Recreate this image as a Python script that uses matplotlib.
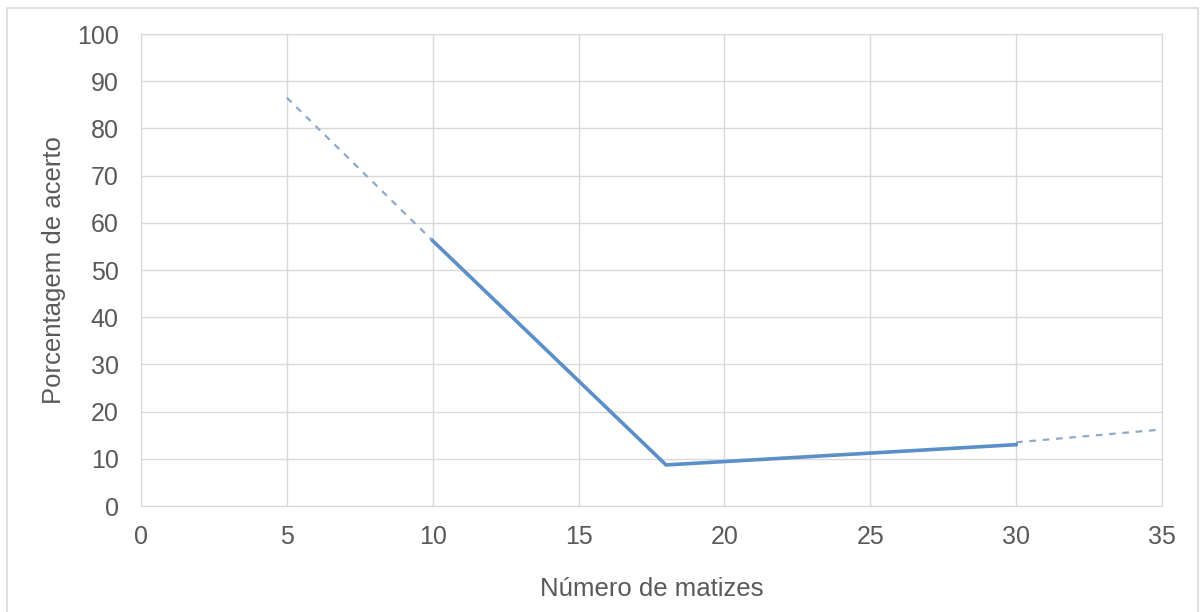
import matplotlib.pyplot as plt
from matplotlib.patches import Rectangle

plt.rcParams['font.family'] = ['Liberation Sans', 'DejaVu Sans']

# solid measured part
x_solid = [10, 18, 30]
y_solid = [56.2, 8.7, 13.0]
# dashed trend extensions
x_dash_left = [5, 10]
y_dash_left = [86.5, 56.2]
x_dash_right = [30, 34.8]
y_dash_right = [13.5, 16.1]

x_ticks = [0, 5, 10, 15, 20, 25, 30, 35]
y_ticks = [0, 10, 20, 30, 40, 50, 60, 70, 80, 90, 100]

fig = plt.figure(figsize=(12.01, 6.12), dpi=100)
fig.patches.append(Rectangle((7 / 1201, -0.01), 1191 / 1201, 0.997, transform=fig.transFigure,
                             fill=False, edgecolor='#d9d9d9', linewidth=1.2))
ax = fig.add_axes([0.1174, 0.1732, 0.8501, 0.7712])

ax.plot(x_dash_left, y_dash_left, color='#8eaacb', linestyle=(0, (3, 3)), linewidth=1.6)
ax.plot(x_dash_right, y_dash_right, color='#8eaacb', linestyle=(0, (3, 3)), linewidth=1.6)
ax.plot(x_solid, y_solid, color='#5b8fc7', linewidth=2.6, solid_joinstyle='miter')

ax.set_xlim(0, 35)
ax.set_ylim(0, 100)
ax.set_xticks(x_ticks)
ax.set_yticks(y_ticks)
ax.grid(True, color='#d9d9d9', linewidth=1)
ax.set_axisbelow(True)
for s in ax.spines.values():
    s.set_color('#d9d9d9')
ax.tick_params(length=0, labelsize=18, colors='#595959')
ax.tick_params(axis='x', pad=14)
ax.tick_params(axis='y', pad=16)
ax.set_xlabel('Número de matizes', fontsize=18.5, color='#595959', labelpad=20)
ax.set_ylabel('Porcentagem de acerto', fontsize=18.5, color='#595959', labelpad=8)

fig.savefig('out.png', dpi=100)
